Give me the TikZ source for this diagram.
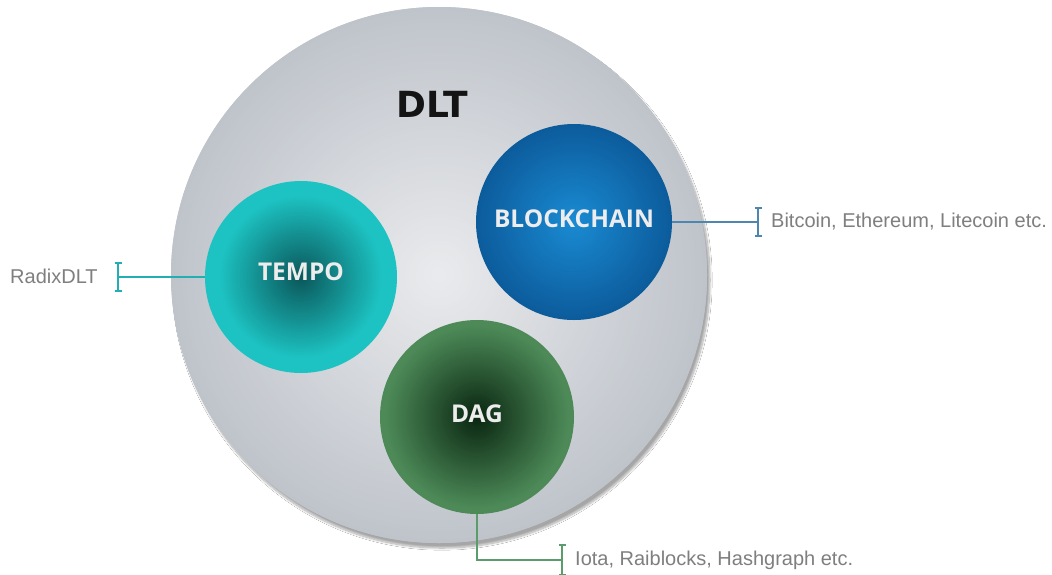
\documentclass[tikz,border=0pt]{standalone}
\usepackage{fontspec}
\setmainfont{Liberation Sans}
\newfontfamily\dltfont{DejaVu Sans}
\newfontfamily\labfont{Open Sans}
\usetikzlibrary{arrows.meta,shadows.blur}
\definecolor{dltin}{HTML}{EAEBED}
\definecolor{dltout}{HTML}{BFC4CB}
\definecolor{tempoin}{HTML}{0A5659}
\definecolor{tempoout}{HTML}{1DC2C2}
\definecolor{blockin}{HTML}{1A8BD3}
\definecolor{blockout}{HTML}{0C5C9C}
\definecolor{dagin}{HTML}{092510}
\definecolor{dagout}{HTML}{4D8A58}
\definecolor{tealline}{HTML}{22AEB3}
\definecolor{blueline}{HTML}{4F86AD}
\definecolor{greenline}{HTML}{5C9C6C}
\definecolor{labgrey}{HTML}{7F7F7F}
\definecolor{intext}{HTML}{EDEDED}
% concentric gradient: #1 centre, #2 radius, #3 inner colour, #4 outer colour, #5 reach fraction, #6 steps
\newcommand\radball[6]{%
  \foreach \k in {0,...,#6}{%
    \pgfmathsetmacro\rbt{1-\k/#6}%
    \pgfmathsetmacro\rbp{min(100,100*\rbt/#5)}%
    \fill[#4!\rbp!#3] (#1) circle[radius=#2*\rbt];%
  }}
\tikzset{
  ball/.style={circle, inner sep=0pt, minimum size=#1},
  inlabel/.style={text=intext, font=\labfont\bfseries\fontsize{24.5}{28}\selectfont},
  sidelabel/.style={text=labgrey, font=\fontsize{20}{24}\selectfont, inner sep=0pt},
  conn/.style={line width=1.6pt},
  barline/.style={line width=2pt, {Bar[width=7pt,line width=1.6pt]}-{Bar[width=7pt,line width=1.6pt]}}
}
\begin{document}
\begin{tikzpicture}[x=1pt,y=-1pt]
\useasboundingbox[fill=white] (0,0) rectangle (1052,574);
% big DLT circle
\node[ball=536pt, fill=dltout,
  blur shadow={shadow xshift=3pt, shadow yshift=-5pt, shadow opacity=35, shadow blur steps=12}]
  (dlt) at (439,275) {};
\radball{dlt.center}{268}{dltin}{dltout}{1}{70}
\node[font=\dltfont\bfseries\fontsize{36}{40}\selectfont, text=black!92] (dlttext) at (432,104) {DLT};
% inner circles
\radball{301,277}{96}{tempoin}{tempoout}{0.85}{50}
\node[ball=192pt, inlabel, text depth=10pt] (tempo) at (301,277) {TEMPO};
\radball{574,222}{98}{blockin}{blockout}{1}{50}
\node[ball=196pt, inlabel, text depth=6pt] (block) at (574,222) {BLOCKCHAIN};
\radball{477,417}{97}{dagin}{dagout}{0.95}{50}
\node[ball=194pt, inlabel, text depth=6pt] (dag) at (477,417) {DAG};
% connector coordinates
\coordinate (rbar) at (118,277);
\coordinate (bbar) at (758,222);
\coordinate (dturn) at (477,560);
\coordinate (dbar) at (562,560);
% labels
\node[sidelabel, anchor=west] (radix) at (10,276) {RadixDLT};
\node[sidelabel, anchor=west] (bitcoin) at (771,222) {Bitcoin, Ethereum, Litecoin etc.};
\node[sidelabel, anchor=west] (iota) at (575,560) {Iota, Raiblocks, Hashgraph etc.};
% connectors
\draw[conn, tealline] (tempo.west) -- (rbar);
\draw[barline, tealline] ([yshift=15pt]rbar) -- ([yshift=-15pt]rbar);
\draw[conn, blueline] (block.east) -- (bbar);
\draw[barline, blueline] ([yshift=15pt]bbar) -- ([yshift=-15pt]bbar);
\draw[conn, greenline] (dag.south) -- (dturn) -- (dbar);
\draw[barline, greenline] ([yshift=16pt]dbar) -- ([yshift=-16pt]dbar);
\end{tikzpicture}
\end{document}
